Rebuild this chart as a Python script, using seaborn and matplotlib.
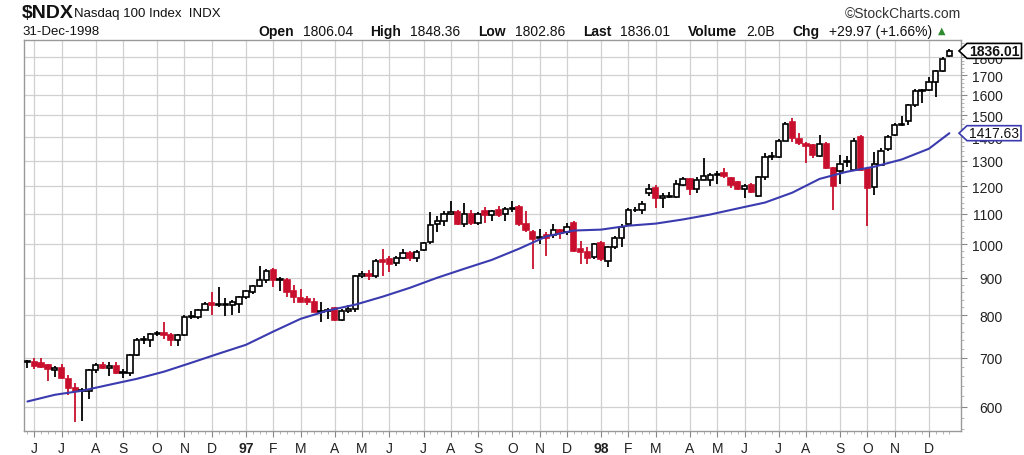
import numpy as np
import pandas as pd
import matplotlib
matplotlib.use("Agg")
import matplotlib.pyplot as plt
import matplotlib.ticker as mticker
from matplotlib.patches import Polygon
import seaborn as sns

# ---------------- data (weekly bars, NDX) ----------------
week_start = "1996-05-27"

opens = [690, 690, 688, 684, 674, 678, 655, 636, 630, 631,
         674, 684, 678, 682, 667, 668, 705, 741, 740, 754,
         757, 752, 740, 752, 796, 796, 812, 832, 826, 826,
         825, 830, 846, 860, 877, 893, 922, 895, 895, 862,
         845, 843, 835, 808, 810, 818, 788, 810, 815, 905,
         910, 905, 953, 955, 942, 957, 972, 957, 982, 1008,
         1065, 1077, 1100, 1108, 1065, 1100, 1068, 1110, 1096, 1112,
         1098, 1118, 1125, 1065, 1040, 1020, 1030, 1030, 1045, 1040,
         1068, 985, 975, 960, 1005, 950, 990, 1020, 1065, 1112,
         1115, 1175, 1195, 1155, 1160, 1160, 1205, 1228, 1190, 1225,
         1225, 1245, 1250, 1232, 1215, 1190, 1205, 1165, 1235, 1315,
         1315, 1385, 1470, 1390, 1370, 1365, 1320, 1370, 1270, 1259,
         1300, 1262, 1402, 1265, 1198, 1283, 1347, 1408, 1455, 1475,
         1548, 1618, 1625, 1665, 1725, 1806.04]
highs = [695, 700, 700, 686, 682, 686, 662, 646, 636, 676,
         688, 690, 690, 690, 676, 708, 745, 750, 757, 762,
         784, 756, 754, 800, 810, 815, 835, 860, 873, 845,
         838, 851, 866, 880, 935, 926, 928, 903, 900, 880,
         870, 850, 845, 835, 818, 820, 815, 825, 908, 920,
         922, 955, 985, 965, 965, 985, 980, 982, 1008, 1108,
         1094, 1110, 1145, 1112, 1140, 1112, 1108, 1125, 1115, 1128,
         1125, 1145, 1130, 1110, 1045, 1050, 1040, 1065, 1048, 1068,
         1075, 1010, 990, 1005, 1010, 995, 1025, 1064, 1120, 1125,
         1145, 1210, 1205, 1175, 1180, 1225, 1235, 1232, 1235, 1310,
         1250, 1260, 1270, 1235, 1220, 1210, 1212, 1240, 1330, 1335,
         1390, 1470, 1485, 1420, 1380, 1370, 1410, 1380, 1275, 1325,
         1320, 1395, 1408, 1272, 1337, 1352, 1410, 1462, 1495, 1555,
         1630, 1628, 1690, 1730, 1800, 1848.36]
lows = [677, 676, 678, 650, 658, 655, 622, 572, 574, 615,
        668, 676, 660, 665, 657, 660, 703, 730, 723, 750,
        743, 726, 727, 750, 790, 790, 812, 800, 820, 798,
        800, 805, 842, 855, 875, 885, 873, 862, 848, 831,
        833, 825, 807, 784, 790, 786, 785, 805, 808, 900,
        895, 900, 905, 915, 935, 955, 950, 945, 978, 1000,
        1040, 1060, 1095, 1062, 1055, 1062, 1062, 1070, 1075, 1090,
        1075, 1108, 1060, 1040, 925, 1000, 963, 1020, 1015, 1030,
        975, 940, 940, 955, 950, 930, 985, 990, 1060, 1105,
        1100, 1165, 1120, 1120, 1155, 1155, 1200, 1168, 1175, 1222,
        1200, 1210, 1230, 1195, 1185, 1155, 1175, 1160, 1225, 1305,
        1312, 1382, 1380, 1365, 1290, 1310, 1315, 1265, 1115, 1210,
        1275, 1258, 1258, 1060, 1169, 1278, 1342, 1403, 1450, 1455,
        1540, 1560, 1620, 1590, 1720, 1802.86]
closes = [692, 682, 680, 675, 678, 657, 636, 630, 633, 673,
          684, 678, 682, 667, 669, 705, 741, 742, 754, 757,
          752, 739, 752, 796, 797, 812, 830, 826, 828, 830,
          833, 848, 862, 877, 893, 920, 895, 897, 860, 848,
          835, 833, 808, 810, 812, 788, 810, 815, 905, 910,
          905, 950, 945, 940, 957, 972, 957, 977, 1004, 1063,
          1077, 1100, 1105, 1065, 1098, 1068, 1100, 1095, 1110, 1095,
          1118, 1120, 1065, 1045, 1018, 1022, 1020, 1045, 1035, 1055,
          980, 975, 958, 1000, 955, 990, 1020, 1057, 1115, 1115,
          1135, 1190, 1155, 1165, 1165, 1210, 1228, 1190, 1225, 1240,
          1242, 1248, 1240, 1205, 1190, 1200, 1180, 1235, 1315, 1320,
          1385, 1460, 1395, 1375, 1362, 1325, 1370, 1270, 1200, 1287,
          1293, 1385, 1262, 1192, 1287, 1341, 1400, 1455, 1458, 1548,
          1620, 1622, 1665, 1725, 1790, 1836.01]

# moving average line, read at every 4th weekly bar
ma_bars = [0, 4, 8, 12, 16, 20, 24, 28, 32, 36, 40, 44, 48, 52, 56, 60, 64, 68,
           72, 76, 80, 84, 88, 92, 96, 100, 104, 108, 112, 116, 120, 124, 128,
           132, 135]
ma_values = [610, 623, 631, 643, 655, 670, 689, 709, 729, 760, 791, 812, 827,
             848, 872, 900, 926, 952, 986, 1025, 1044, 1047, 1060, 1067, 1081,
             1098, 1119, 1140, 1176, 1228, 1256, 1276, 1305, 1350, 1417.63]

price_ticks = [600, 700, 800, 900, 1000, 1100, 1200, 1300, 1400, 1500, 1600,
               1700, 1800]
month_letters = ["J", "F", "M", "A", "M", "J", "J", "A", "S", "O", "N", "D"]

header_keys = ["Open", "High", "Low", "Last", "Volume", "Chg"]
header_vals = ["1806.04", "1848.36", "1802.86", "1836.01", "2.0B", "+29.97 (+1.66%)"]

# ---------------- figure ----------------
sns.set_theme(style="white")
plt.rcParams["font.family"] = ["Liberation Sans", "DejaVu Sans"]

W, H = 1024, 456
fig = plt.figure(figsize=(W / 100, H / 100), dpi=100)
fig.patch.set_facecolor("white")
L, R, T, B = 24, 961, 41, 432
ax = fig.add_axes([L / W, 1 - B / H, (R - L) / W, (B - T) / H])
ax.set_facecolor("white")

o = np.array(opens, float)
h = np.array(highs, float)
lo = np.array(lows, float)
c = np.array(closes, float)
n = len(c)
xs = np.arange(n)
dates = pd.date_range(week_start, periods=n, freq="7D")

RED = "#c8102e"
prev_c = np.r_[c[0], c[:-1]]
edge = np.where(c < prev_c, RED, "black")
face = np.where(c < o, edge, "white")

ax.set_yscale("log")

# wicks
ax.vlines(xs, lo, h, colors=edge, linewidth=1.3, zorder=3)
# bodies
body_lo = np.minimum(o, c)
body_h = np.maximum(np.abs(c - o), 0.6)
ax.bar(xs, body_h, bottom=body_lo, width=0.78, color=face, edgecolor=edge,
       linewidth=1.2, zorder=4)

# moving average
sns.lineplot(x=ma_bars, y=ma_values, ax=ax, color="#3b3bb0", linewidth=1.5,
             zorder=5)

ax.set_xlim(-0.5, 136.7)
ax.set_ylim(556, 1900)

# month ticks
mticks, mlabels = [], []
for i in range(1, n):
    if dates[i].month != dates[i - 1].month:
        mticks.append(i)
        if dates[i].month == 1:
            mlabels.append(f"{dates[i].year % 100:02d}")
        else:
            mlabels.append(month_letters[dates[i].month - 1])
ax.set_xticks(mticks)
ax.set_xticklabels(mlabels)
ax.xaxis.set_minor_locator(mticker.FixedLocator(xs))
for lab in ax.get_xticklabels():
    lab.set_fontsize(10)
    lab.set_color("#222222")
    if lab.get_text().isdigit():
        lab.set_fontweight("bold")
ax.tick_params(axis="x", which="major", length=4, width=0.8, color="#888888",
               pad=3, bottom=True)
ax.tick_params(axis="x", which="minor", length=2, width=0.6, color="#aaaaaa",
               bottom=True)

# price axis on the right
ax.yaxis.set_major_locator(mticker.FixedLocator(price_ticks))
ax.yaxis.set_major_formatter(mticker.FixedFormatter([str(v) for v in price_ticks]))
minor_vals = [v for v in range(560, 1900, 20) if v % 100 != 0]
ax.yaxis.set_minor_locator(mticker.FixedLocator(minor_vals))
ax.yaxis.set_minor_formatter(mticker.NullFormatter())
ax.yaxis.tick_right()
ax.tick_params(axis="y", which="major", length=4, width=0.8, color="#888888",
               labelsize=10, labelcolor="#222222", pad=26, right=True, left=False)
ax.tick_params(axis="y", which="minor", length=2, width=0.6, color="#aaaaaa",
               right=True, left=False)
for lab in ax.get_yticklabels():
    lab.set_horizontalalignment("right")

# grid
ax.grid(True, which="major", axis="both", color="#d0d0d0", linewidth=0.9, zorder=0)
ax.set_axisbelow(True)
for sp in ax.spines.values():
    sp.set_color("#999999")
    sp.set_linewidth(1.0)

# ---------------- header ----------------
def px(x, y):
    return x / W, 1 - y / H

fig.text(*px(22, 13), "$NDX", fontsize=14, fontweight="bold", va="center",
         ha="left", color="#111111")
fig.text(*px(74, 14), "Nasdaq 100 Index  INDX", fontsize=9.5, va="center",
         ha="left", color="#111111")
fig.text(*px(961, 14), "\u00a9StockCharts.com", fontsize=10, va="center",
         ha="right", color="#333333")
fig.text(*px(22, 32), "31-Dec-1998", fontsize=9.5, va="center", ha="left",
         color="#111111")

fig.canvas.draw()
renderer = fig.canvas.get_renderer()

# second header row: laid out piece by piece, spread from x=258 to x=932
row_items = []
for k, v in zip(header_keys, header_vals):
    row_items.append((k, "bold"))
    row_items.append((v, "normal"))
texts = []
for txt, wgt in row_items:
    t = fig.text(0, 1 - 32 / H, txt, fontsize=10, fontweight=wgt, va="center",
                 ha="left", color="#111111")
    texts.append(t)
fig.canvas.draw()
widths = [t.get_window_extent(renderer).width for t in texts]
x_start, x_end = 258.0, 932.0
n_small = len(header_keys)
n_big = len(header_keys) - 1
g = (x_end - x_start - sum(widths)) / (n_small + 2 * n_big)
cur = x_start
for idx, t in enumerate(texts):
    t.set_x(cur / W)
    cur += widths[idx] + (g if idx % 2 == 0 else 2 * g)
fig.text(*px(938, 31), "\u25b2", fontsize=7, va="center", ha="left",
         color="#2e8b2e", family=["DejaVu Sans"])

# ---------------- value tags on the right ----------------
fig.canvas.draw()
ax_bb = ax.get_window_extent(renderer)


def add_tag(value, label, ec, weight):
    yc = ax.transData.transform((0, value))[1]
    tx = ax_bb.x1 + 8
    t = fig.text(tx / W, yc / H, label, ha="left", va="center", fontsize=10,
                 fontweight=weight, color="#111111", zorder=11)
    fig.canvas.draw()
    bb = t.get_window_extent(renderer)
    x0, x1 = bb.x0 - 2, bb.x1 + 2
    y0, y1 = yc - 7.5, yc + 7.5
    pts = [(ax_bb.x1 - 2, yc), (x0, y1), (x1, y1), (x1, y0), (x0, y0)]
    pts = fig.transFigure.inverted().transform(pts)
    poly = Polygon(pts, closed=True, transform=fig.transFigure, facecolor="white",
                   edgecolor=ec, linewidth=1.2, zorder=10)
    fig.add_artist(poly)


add_tag(closes[-1], f"{closes[-1]:.2f}", "black", "bold")
add_tag(ma_values[-1], f"{ma_values[-1]:.2f}", "#3b3bb0", "normal")

fig.savefig("out.png", dpi=100, facecolor="white")
